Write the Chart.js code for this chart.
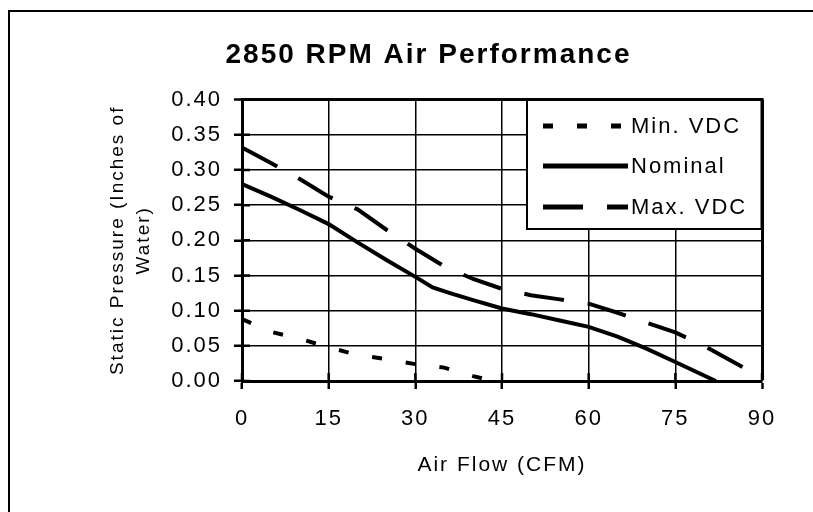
<!DOCTYPE html>
<html>
<head>
  <title>2850 RPM Air Performance</title>
  <script src="https://cdn.jsdelivr.net/npm/chart.js"></script>
  <style>
    body { margin: 0; background: #fff; }
    #wrap { position: relative; width: 813px; height: 512px; }
  </style>
</head>
<body>
  <div id="wrap"><canvas id="myChart" width="813" height="512"></canvas></div>

  <script>
    // Datos (x = CFM, y = pulgadas de agua)
    var minFlow = [0, 5, 10, 15, 20, 25, 30, 35, 40, 42];
    var minPressure = [0.088, 0.070, 0.060, 0.048, 0.037, 0.031, 0.024, 0.019, 0.007, 0.003];

    var nomFlow = [0, 5, 10, 15, 20, 25, 30, 33, 36, 40, 45, 50, 55, 60, 65, 70, 75, 82];
    var nomPressure = [0.280, 0.262, 0.243, 0.223, 0.197, 0.172, 0.148, 0.133, 0.125, 0.115, 0.103, 0.095, 0.086, 0.077, 0.063, 0.046, 0.027, 0.000];

    var maxFlow = [0, 5, 10, 15, 20, 25, 30, 35, 40, 45, 50, 55, 60, 65, 70, 75, 80, 87];
    var maxPressure = [0.332, 0.310, 0.287, 0.262, 0.244, 0.215, 0.188, 0.163, 0.145, 0.131, 0.122, 0.116, 0.110, 0.097, 0.083, 0.069, 0.050, 0.018];

    var seriesNames = ['Min. VDC', 'Nominal', 'Max. VDC'];
    var xTicks = [0, 15, 30, 45, 60, 75, 90];
    var yTicks = [0, 0.05, 0.10, 0.15, 0.20, 0.25, 0.30, 0.35, 0.40];

    function toPoints(xs, ys) {
      return xs.map(function (x, i) { return { x: x, y: ys[i] }; });
    }

    var font = 'Liberation Sans, Arial, sans-serif';

    // El texto del original es mas ancho: se agrega espaciado entre letras
    var spacing = {
      id: 'spacing',
      beforeLayout: function (chart) { chart.ctx.letterSpacing = '2px'; },
      beforeDraw: function (chart) { chart.ctx.letterSpacing = '2px'; }
    };

    // Marcas cortas hacia adentro del grafico, como en el original
    var innerTicks = {
      id: 'innerTicks',
      afterDatasetsDraw: function (chart) {
        var c = chart.ctx;
        var area = chart.chartArea;
        var xs = chart.scales.x, ys = chart.scales.y;
        c.save();
        c.strokeStyle = '#000';
        c.lineWidth = 2.5;
        c.beginPath();
        yTicks.forEach(function (v) {
          var py = ys.getPixelForValue(v);
          c.moveTo(area.left, py);
          c.lineTo(area.left + 8, py);
        });
        xTicks.forEach(function (v) {
          var px = xs.getPixelForValue(v);
          c.moveTo(px, area.bottom);
          c.lineTo(px, area.bottom - 8);
        });
        c.stroke();
        c.restore();
      }
    };

    // Leyenda dibujada dentro del area del grafico, con caja blanca
    var boxLegend = {
      id: 'boxLegend',
      afterDraw: function (chart) {
        var c = chart.ctx;
        var area = chart.chartArea;
        var x0 = 527, y0 = area.top, x1 = area.right, y1 = 229;
        c.save();
        c.fillStyle = '#fff';
        c.fillRect(x0, y0, x1 - x0, y1 - y0);
        c.strokeStyle = '#000';
        c.lineWidth = 2;
        c.strokeRect(x0, y0, x1 - x0, y1 - y0);
        c.lineWidth = 3;
        c.beginPath();
        c.moveTo(x0, y0);
        c.lineTo(x1, y0);
        c.lineTo(x1, y1);
        c.stroke();
        var rows = [126, 166, 207];
        chart.data.datasets.forEach(function (ds, i) {
          c.beginPath();
          c.setLineDash(ds.borderDash || []);
          c.lineWidth = 5;
          c.moveTo(543, rows[i]);
          c.lineTo(628, rows[i]);
          c.stroke();
          c.setLineDash([]);
          c.fillStyle = '#000';
          c.font = '22px ' + font;
          c.textBaseline = 'middle';
          c.fillText(ds.label, 631, rows[i] + 1);
        });
        c.restore();
      }
    };

    var ctx = document.getElementById('myChart').getContext('2d');
    var myChart = new Chart(ctx, {
      type: 'scatter',
      data: {
        datasets: [{
          label: seriesNames[0],
          data: toPoints(minFlow, minPressure),
          borderDash: [10, 24]
        }, {
          label: seriesNames[1],
          data: toPoints(nomFlow, nomPressure),
          borderDash: []
        }, {
          label: seriesNames[2],
          data: toPoints(maxFlow, maxPressure),
          borderDash: [40, 24]
        }]
      },
      options: {
        responsive: false,
        animation: false,
        showLine: true,
        layout: { padding: { left: 95, right: 51, top: 10, bottom: 20 } },
        elements: {
          point: { radius: 0 },
          line: { borderColor: '#000', borderWidth: 4, tension: 0 }
        },
        plugins: {
          legend: { display: false },
          tooltip: { enabled: false },
          title: {
            display: true,
            text: '2850 RPM Air Performance',
            color: '#000',
            font: { family: font, size: 28, weight: 'bold', lineHeight: 1.2 },
            padding: { top: 28, bottom: 28 }
          }
        },
        scales: {
          x: {
            type: 'linear',
            min: 0,
            max: 90,
            afterBuildTicks: function (scale) {
              scale.ticks = xTicks.map(function (v) { return { value: v }; });
            },
            afterFit: function (scale) { scale.height = 111; },
            ticks: { color: '#000', padding: 17, font: { family: font, size: 22 } },
            grid: {
              color: '#000',
              lineWidth: function (c) { return c.tick && c.tick.value === 90 ? 3 : 1.5; },
              tickLength: 8,
              tickWidth: 2.5
            },
            border: { color: '#000', width: 3 },
            title: {
              display: true,
              text: 'Air Flow (CFM)',
              color: '#000',
              font: { family: font, size: 21 },
              padding: { top: 0, bottom: 14 }
            }
          },
          y: {
            type: 'linear',
            min: 0,
            max: 0.40,
            afterBuildTicks: function (scale) {
              scale.ticks = yTicks.map(function (v) { return { value: v }; });
            },
            afterFit: function (scale) { scale.width = 147; },
            ticks: {
              color: '#000',
              padding: 12,
              font: { family: font, size: 22 },
              callback: function (v) { return v.toFixed(2); }
            },
            grid: {
              color: '#000',
              lineWidth: function (c) { return c.tick && Math.abs(c.tick.value - 0.4) < 1e-9 ? 3 : 1.5; },
              tickLength: 8,
              tickWidth: 2.5
            },
            border: { color: '#000', width: 3 },
            title: {
              display: true,
              text: ['Static Pressure (Inches of', 'Water)'],
              color: '#000',
              font: { family: font, size: 19, lineHeight: 1.35 },
              padding: { top: 10, bottom: 0 }
            }
          }
        }
      },
      plugins: [spacing, innerTicks, boxLegend, {
        id: 'frame',
        beforeDraw: function (chart) {
          var c = chart.ctx;
          c.save();
          c.fillStyle = '#fff';
          c.fillRect(0, 0, chart.width, chart.height);
          c.strokeStyle = '#000';
          c.lineWidth = 2;
          c.beginPath();
          c.moveTo(9, 512);
          c.lineTo(9, 11);
          c.lineTo(813, 11);
          c.stroke();
          c.restore();
        }
      }]
    });
  </script>
</body>
</html>
